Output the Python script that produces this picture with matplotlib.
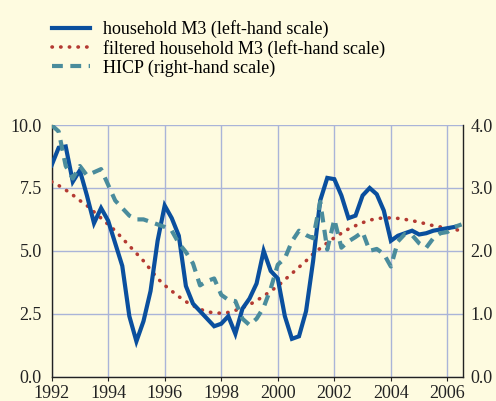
import matplotlib
matplotlib.use("Agg")
import matplotlib.pyplot as plt
import numpy as np

# quarterly observations, 1992 Q1 onwards
START_YEAR = 1992.0
household_m3 = [8.4, 9.1, 9.15, 7.75, 8.2, 7.2, 6.1, 6.7,
                6.2, 5.3, 4.4, 2.4, 1.4, 2.2, 3.4, 5.4,
                6.8, 6.3, 5.6, 3.6, 2.9, 2.6, 2.3, 2.0,
                2.1, 2.4, 1.7, 2.7, 3.1, 3.7, 5.0, 4.2,
                3.9, 2.4, 1.5, 1.6, 2.6, 4.6, 7.0, 7.9,
                7.85, 7.2, 6.3, 6.4, 7.2, 7.5, 7.25, 6.6,
                5.4, 5.6, 5.7, 5.8, 5.65, 5.7, 5.8, 5.85,
                5.9, 5.95]
filtered_m3 = [7.75, 7.6, 7.42, 7.22, 7.0, 6.8, 6.55, 6.3,
               6.05, 5.8, 5.5, 5.2, 4.9, 4.6, 4.25, 3.9,
               3.63, 3.4, 3.18, 2.98, 2.82, 2.68, 2.58, 2.53,
               2.52, 2.55, 2.63, 2.74, 2.86, 3.02, 3.2, 3.4,
               3.6, 3.85, 4.1, 4.35, 4.6, 4.88, 5.1, 5.32,
               5.52, 5.7, 5.87, 6.0, 6.12, 6.22, 6.28, 6.31,
               6.31, 6.29, 6.25, 6.2, 6.14, 6.07, 6.0, 5.95,
               5.9, 5.85, 5.8]
hicp = [4.0, 3.9, 3.35, 3.15, 3.35, 3.2, 3.25, 3.3,
        3.05, 2.8, 2.68, 2.56, 2.5, 2.5, 2.46, 2.42,
        2.38, 2.32, 2.12, 1.98, 1.8, 1.45, 1.52, 1.56,
        1.3, 1.22, 1.2, 0.92, 0.82, 0.92, 1.1, 1.4,
        1.78, 1.88, 2.15, 2.32, 2.25, 2.2, 2.78, 2.02,
        2.5, 2.05, 2.15, 2.22, 2.3, 2.0, 2.03, 1.95,
        1.75, 2.15, 2.27, 2.25, 2.12, 2.05, 2.2, 2.28,
        2.3, 2.38, 2.42]

year_ticks = [1992, 1994, 1996, 1998, 2000, 2002, 2004, 2006]
left_ticks = [0.0, 2.5, 5.0, 7.5, 10.0]
right_ticks = [0.0, 1.0, 2.0, 3.0, 4.0]

labels = ["household M3 (left-hand scale)",
          "filtered household M3 (left-hand scale)",
          "HICP (right-hand scale)"]

BG = "#fefbe0"
BLUE = "#0a4f9e"
RED = "#b43a32"
TEAL = "#4a8c9c"
GRID = "#aab4d8"
INK = "#222222"
FS = 13


def quarters(values):
    return START_YEAR + np.arange(len(values)) * 0.25


plt.rcParams["font.family"] = ["Liberation Serif", "DejaVu Serif"]

fig = plt.figure(figsize=(4.96, 4.01), dpi=100, facecolor=BG)
ax = fig.add_axes([0.104, 0.061, 0.830, 0.627], facecolor=BG)
ax2 = ax.twinx()

l1, = ax.plot(quarters(household_m3), household_m3, color=BLUE, lw=3.0,
              solid_joinstyle="miter", zorder=4)
l2, = ax.plot(quarters(filtered_m3), filtered_m3, color=RED, lw=2.6,
              linestyle=(0, (0.1, 2.3)), dash_capstyle="round", zorder=3)
l3, = ax2.plot(quarters(hicp), hicp, color=TEAL, lw=3.0,
               linestyle=(0, (2.6, 1.8)), zorder=3)

ax.set_xlim(1992, 2006.56)
ax.set_ylim(0, 10)
ax2.set_ylim(0, 4)
ax.set_xticks(year_ticks)
ax.set_xticklabels([str(y) for y in year_ticks])
ax.set_yticks(left_ticks)
ax.set_yticklabels([f"{v:.1f}" for v in left_ticks])
ax2.set_yticks(right_ticks)
ax2.set_yticklabels([f"{v:.1f}" for v in right_ticks])

ax.grid(True, color=GRID, lw=1.0)
ax.set_axisbelow(True)
for a in (ax, ax2):
    a.spines["top"].set_visible(False)
    for s in a.spines.values():
        s.set_color(INK)
        s.set_linewidth(1.0)
ax.spines["right"].set_visible(False)
ax2.spines["left"].set_visible(False)
ax2.spines["bottom"].set_visible(False)

ax.tick_params(axis="y", length=0, pad=7, labelsize=FS, colors=INK)
ax.tick_params(axis="x", length=3, pad=3, labelsize=FS, colors=INK,
               direction="out")
ax2.tick_params(axis="y", length=0, pad=5, labelsize=FS, colors=INK)

fig.legend([l1, l2, l3], labels, loc="upper left",
           bbox_to_anchor=(0.068, 0.995), frameon=False, fontsize=FS,
           handlelength=2.1, handletextpad=0.75, labelspacing=0.1,
           borderaxespad=0.6)

fig.savefig("out.png", dpi=100, facecolor=BG)
